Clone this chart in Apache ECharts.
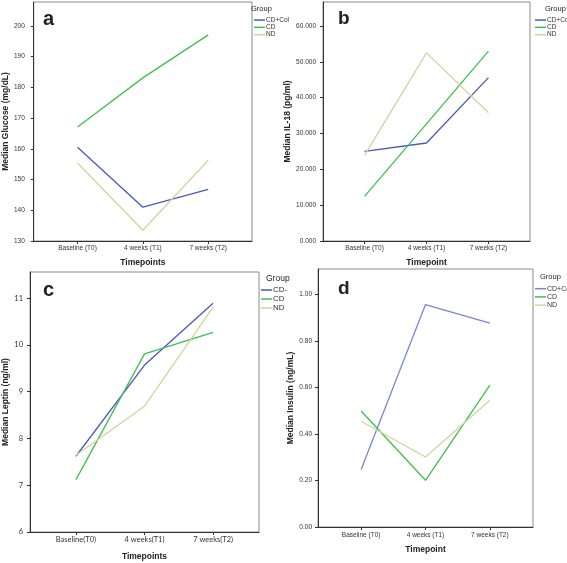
<!DOCTYPE html>
<html><head><meta charset="utf-8">
<script src="https://cdn.jsdelivr.net/npm/echarts@6/dist/echarts.min.js"></script>
<style>html,body{margin:0;padding:0;background:#fff}#c{width:567px;height:563px}</style>
</head><body><div id="c"></div>
<script>
// ---- data ----
const timepoints = ['Baseline (T0)', '4 weeks (T1)', '7 weeks (T2)'];
const timepointsC = ['Baseline(T0)', '4 weeks(T1)', '7 weeks(T2)'];
const groups = ['CD+Col', 'CD', 'ND'];
const groupsC = ['CD-', 'CD', 'ND'];

const glucoseCDCol = [160.5, 141.0, 146.8];
const glucoseCD = [167.1, 183.1, 197.1];
const glucoseND = [155.4, 133.5, 156.3];
const glucoseTicks = [130, 140, 150, 160, 170, 180, 190, 200];

const il18CDCol = [25000, 27350, 45600];
const il18CD = [12470, 32700, 53000];
const il18ND = [23900, 52500, 35800];
const il18Ticks = [0, 10000, 20000, 30000, 40000, 50000, 60000];

const leptinCDCol = [7.62, 9.57, 10.89];
const leptinCD = [7.12, 9.81, 10.27];
const leptinND = [7.64, 8.69, 10.81];
const leptinTicks = [6, 7, 8, 9, 10, 11];

const insulinCDCol = [0.247, 0.957, 0.877];
const insulinCD = [0.499, 0.201, 0.610];
const insulinND = [0.455, 0.301, 0.545];
const insulinTicks = [0, 0.2, 0.4, 0.6, 0.8, 1.0];

// ---- styling ----
const BLUE = '#4a58bd', GREEN = '#3fbf4f', BEIGE = '#d9d0a0';
const BLUE_D = '#7887d2';
const FONT = 'Liberation Sans, Arial, sans-serif';
const xIdx = [0, 1, 2];

const grids = [
  {left: 31, top: 2, width: 221, height: 239},
  {left: 323, top: 2, width: 207, height: 239},
  {left: 30, top: 272, width: 229, height: 260},
  {left: 318, top: 269, width: 215, height: 258}
].map(g => Object.assign({show: true, borderColor: '#8a8a8a', borderWidth: 1, backgroundColor: '#fff'}, g));

function xAxis(gi, cats, name, nameGap, margin, fontSize, family) {
  return {
    gridIndex: gi, type: 'value', min: -0.67, max: 2.67, position: 'bottom',
    name: name, nameLocation: 'middle', nameGap: nameGap,
    nameTextStyle: {fontWeight: 'bold', fontSize: 8.5, color: '#222', fontFamily: FONT},
    axisLine: {show: true, onZero: false, lineStyle: {color: '#333', width: 1}},
    axisTick: {show: true, length: 3, customValues: xIdx, lineStyle: {color: '#333'}},
    axisLabel: {customValues: xIdx, margin: margin, fontSize: fontSize, color: '#333', fontFamily: family || FONT,
      formatter: v => cats[Math.round(v)]},
    splitLine: {show: false}
  };
}
function yAxis(gi, min, max, ticks, fmt, name, nameGap, margin, fontSize, family) {
  return {
    gridIndex: gi, type: 'value', min: min, max: max, position: 'left',
    name: name, nameLocation: 'middle', nameGap: nameGap, nameRotate: 90,
    nameTextStyle: {fontWeight: 'bold', fontSize: 8.5, color: '#222', fontFamily: FONT},
    axisLine: {show: true, onZero: false, lineStyle: {color: '#333', width: 1}},
    axisTick: {show: true, length: 3, customValues: ticks, lineStyle: {color: '#333'}},
    axisLabel: {customValues: ticks, margin: margin, fontSize: fontSize, color: '#333', fontFamily: family || FONT, formatter: fmt},
    splitLine: {show: false}
  };
}

const xs = [
  xAxis(0, timepoints, 'Timepoints', 17, 4, 6.5),
  xAxis(1, timepoints, 'Timepoint', 17, 4, 6.5),
  xAxis(2, timepointsC, 'Timepoints', 20, 4, 7.5, 'Lato, Open Sans, sans-serif'),
  xAxis(3, timepoints, 'Timepoint', 18, 5, 6.5)
];

const ys = [
  yAxis(0, 130, 207.8, glucoseTicks, v => String(v), 'Median Glucose (mg/dL)', 21, 9, 6.5),
  yAxis(1, 0, 66700, il18Ticks, v => (v / 1000).toFixed(3), 'Median IL-18 (pg/ml)', 29, 7, 6.5),
  yAxis(2, 6, 11.56, leptinTicks, v => String(v), 'Median Leptin (ng/ml)', 20, 7, 7.5, 'Lato, Open Sans, sans-serif'),
  yAxis(3, 0, 1.11, insulinTicks, v => v.toFixed(2), 'Median Insulin (ng/mL)', 23, 6, 6.5)
];

function line(name, gi, vals, color) {
  return {
    type: 'line', name: name, xAxisIndex: gi, yAxisIndex: gi,
    data: xIdx.map(i => [i, vals[i]]),
    showSymbol: false, symbol: 'none', silent: true,
    lineStyle: {color: color, width: 1.3}, itemStyle: {color: color}
  };
}
const series = [
  line(groups[0], 0, glucoseCDCol, BLUE), line(groups[1], 0, glucoseCD, GREEN), line(groups[2], 0, glucoseND, BEIGE),
  line(groups[0], 1, il18CDCol, BLUE), line(groups[1], 1, il18CD, GREEN), line(groups[2], 1, il18ND, BEIGE),
  line(groupsC[0], 2, leptinCDCol, BLUE), line(groupsC[1], 2, leptinCD, GREEN), line(groupsC[2], 2, leptinND, BEIGE),
  line(groups[0], 3, insulinCDCol, BLUE_D), line(groups[1], 3, insulinCD, GREEN), line(groups[2], 3, insulinND, BEIGE)
];

function legend(names, colors, left, top, fontSize, lineH) {
  return {
    show: true, orient: 'vertical', left: left, top: top, padding: 0,
    itemWidth: 11, itemHeight: 1.5, itemGap: 0, icon: 'rect', selectedMode: false,
    textStyle: {fontSize: fontSize, lineHeight: lineH, color: '#333', fontFamily: FONT, padding: [0, 0, 0, -4]},
    data: names.map((n, i) => ({name: n, itemStyle: {color: colors[i]}}))
  };
}
const legends = [
  legend(groups, [BLUE, GREEN, BEIGE], 254, 16.4, 6.5, 7.3),
  legend(groups, [BLUE, GREEN, BEIGE], 535, 16.4, 6.5, 7.3),
  legend(groupsC, [BLUE, GREEN, BEIGE], 261, 285.5, 8, 9),
  legend(groups, [BLUE_D, GREEN, BEIGE], 535, 284.6, 7, 8.2)
];

function txt(s, x, y, size, weight, family) {
  return {type: 'text', left: x, top: y, silent: true,
    style: {text: s, fontSize: size, fontWeight: weight || 'normal', fill: '#222', fontFamily: family || FONT}};
}
const graphics = [
  txt('a', 43, 9, 20, 'bold'),
  txt('b', 338, 9, 19, 'bold'),
  txt('c', 43, 280, 20, 'bold'),
  txt('d', 338, 279, 19, 'bold'),
  txt('Group', 251, 5, 7.5, 'normal'),
  txt('Group', 545, 5, 7.5, 'normal'),
  txt('Group', 266, 274, 8.5, 'normal'),
  txt('Group', 540, 273, 7.5, 'normal')
];

const chart = echarts.init(document.getElementById('c'), null, {renderer: 'canvas'});
chart.setOption({
  animation: false,
  backgroundColor: '#fff',
  grid: grids, xAxis: xs, yAxis: ys, series: series, legend: legends, graphic: graphics
});
</script></body></html>
